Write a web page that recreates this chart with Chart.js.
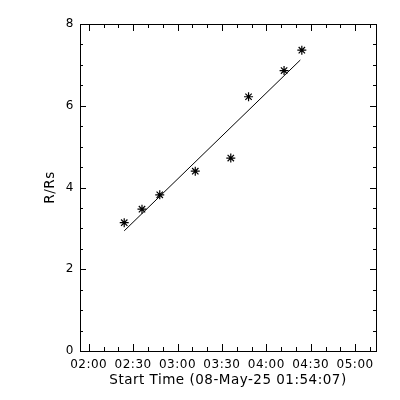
<!DOCTYPE html>
<html><head><meta charset="utf-8">
<script src="https://cdn.jsdelivr.net/npm/chart.js@4"></script>
<style>html,body{margin:0;padding:0;background:#fff;}#wrap{width:400px;height:400px;}</style>
</head><body><div id="wrap"><canvas id="c" width="400" height="400"></canvas></div>
<script>
const startTime = '01:54:07';
const endTime = '05:14:07';
const times = ['02:24:00','02:36:00','02:48:00','03:12:00','03:36:00','03:48:00','04:12:00','04:24:00'];
const heights = [3.14, 3.47, 3.82, 4.40, 4.72, 6.22, 6.86, 7.36];
const fitTimes = ['02:24:00','04:23:00'];
const fitHeights = [2.94, 7.12];
const xTickLabels = ['02:00','02:30','03:00','03:30','04:00','04:30','05:00'];
const xMinorLabels = ['02:10','02:20','02:40','02:50','03:10','03:20','03:40','03:50','04:10','04:20','04:40','04:50','05:10'];
const yTickLabels = [0, 2, 4, 6, 8];
const yMinorValues = [0.5,1,1.5,2.5,3,3.5,4.5,5,5.5,6.5,7,7.5];
const xTitle = 'Start Time (08-May-25 01:54:07)';
const yTitle = 'R/Rs';

function sec(t){const p=t.split(':').map(Number);return p[0]*3600+p[1]*60+(p[2]||0);}
function fmt(s){const h=Math.floor(s/3600),m=Math.round((s%3600)/60);return String(h).padStart(2,'0')+':'+String(m).padStart(2,'0');}

const FONT = {family:'DejaVu Sans', size:12};
const TFONT = {family:'DejaVu Sans', size:13.5};

const spacingPlugin = {
  id:'spacing',
  beforeUpdate(chart){chart.ctx.letterSpacing='0.5px';},
  beforeDraw(chart){chart.ctx.letterSpacing='0.5px';}
};

const tickPlugin = {
  id:'idlTicks',
  afterDraw(chart){
    const ctx=chart.ctx, a=chart.chartArea, xs=chart.scales.x, ys=chart.scales.y;
    ctx.save();
    ctx.strokeStyle='#000'; ctx.lineWidth=1;
    ctx.strokeRect(Math.round(a.left)+0.5, Math.round(a.top)+0.5, Math.round(a.right-a.left), Math.round(a.bottom-a.top));
    ctx.beginPath();
    const vx=(v,len)=>{const x=Math.round(xs.getPixelForValue(v))+0.5;
      ctx.moveTo(x,a.bottom);ctx.lineTo(x,a.bottom-len);ctx.moveTo(x,a.top);ctx.lineTo(x,a.top+len);};
    const hy=(v,len)=>{const y=Math.round(ys.getPixelForValue(v))+0.5;
      ctx.moveTo(a.left,y);ctx.lineTo(a.left+len,y);ctx.moveTo(a.right,y);ctx.lineTo(a.right-len,y);};
    xTickLabels.forEach(t=>vx(sec(t),7));
    xMinorLabels.forEach(t=>vx(sec(t),4));
    yTickLabels.forEach(v=>hy(v,6));
    yMinorValues.forEach(v=>hy(v,3));
    ctx.stroke();
    ctx.restore();
  }
};

new Chart(document.getElementById('c'),{
  type:'scatter',
  data:{datasets:[
    {label:'data',data:times.map((t,i)=>({x:sec(t),y:heights[i]})),pointStyle:'star',pointRadius:4.5,pointBorderWidth:1.2,borderColor:'#000',backgroundColor:'#000',showLine:false},
    {label:'fit',data:fitTimes.map((t,i)=>({x:sec(t),y:fitHeights[i]})),showLine:true,pointRadius:0,borderColor:'#000',borderWidth:1}
  ]},
  options:{
    responsive:false,animation:false,
    layout:{padding:{top:24,right:24,left:0,bottom:0}},
    plugins:{legend:{display:false},tooltip:{enabled:false}},
    scales:{
      x:{type:'linear',min:sec(startTime),max:sec(endTime),
        afterBuildTicks(s){s.ticks=xTickLabels.map(t=>({value:sec(t)}));},
        afterFit(s){s.height=49;},
        grid:{display:false,drawTicks:false},border:{display:false},
        ticks:{color:'#000',font:FONT,padding:7,maxRotation:0,autoSkip:false,callback:v=>fmt(v)},
        title:{display:true,text:xTitle,color:'#000',font:TFONT,padding:{top:0,bottom:11.9}}},
      y:{type:'linear',min:0,max:8,
        afterBuildTicks(s){s.ticks=yTickLabels.map(v=>({value:v}));},
        afterFit(s){s.width=80;},
        grid:{display:false,drawTicks:false},border:{display:false},
        ticks:{color:'#000',font:FONT,padding:6},
        title:{display:true,text:yTitle,color:'#000',font:TFONT,padding:{top:41.9,bottom:0}}}
    }
  },
  plugins:[spacingPlugin,tickPlugin]
});
</script></body></html>
